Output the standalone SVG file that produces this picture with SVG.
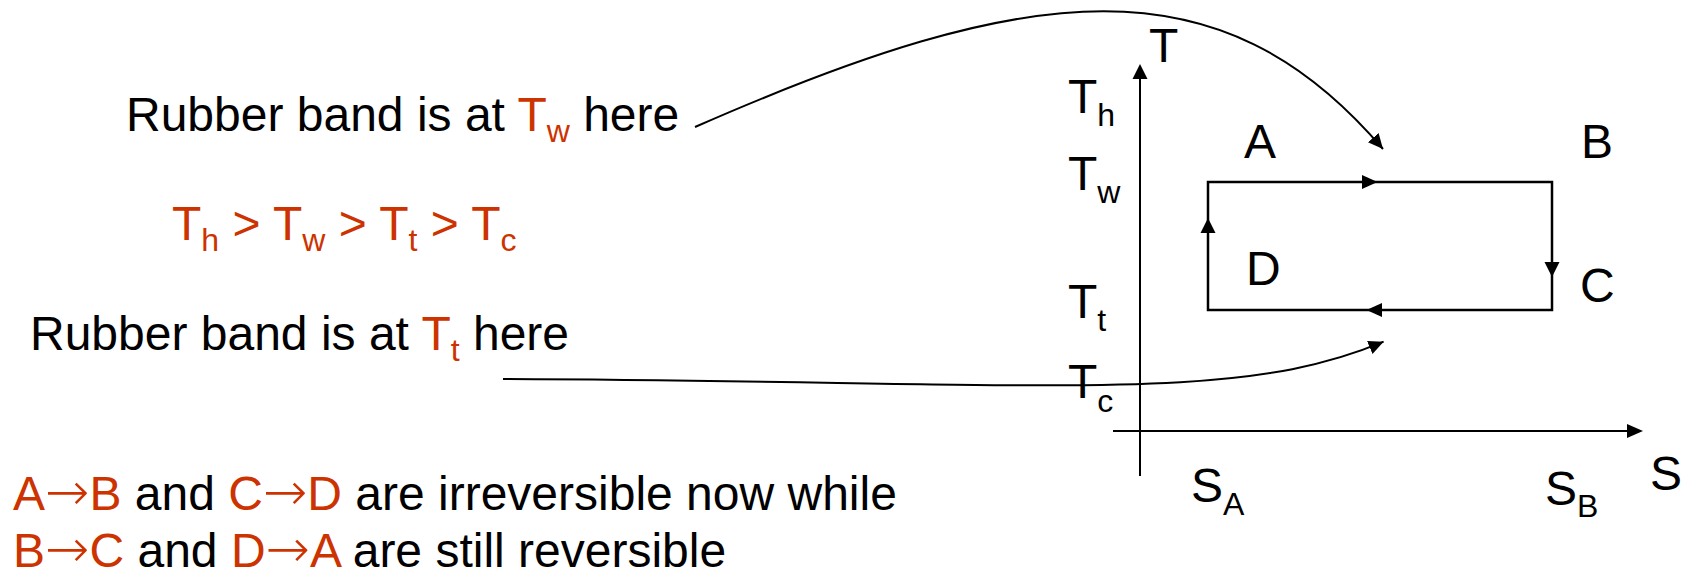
<svg xmlns="http://www.w3.org/2000/svg" width="1684" height="574" viewBox="0 0 1684 574">
<style>
text{font-family:"Liberation Sans",Arial,sans-serif;font-size:48px;fill:#000}
.r{fill:#CC3300}
.sub{font-size:32px}
.ar{font-family:"DejaVu Sans",sans-serif;font-size:53px;font-weight:200}
.ln{fill:none;stroke:#000;stroke-width:2}
.edge{fill:none;stroke:#000;stroke-width:2.5}
.ah{fill:#000;stroke:none}
</style>
<defs>
<marker id="arr" markerUnits="userSpaceOnUse" markerWidth="16" markerHeight="15" refX="15" refY="7" orient="auto">
<path d="M0,0 L15,7 L0,14 z" fill="#000"/>
</marker>
</defs>
<rect width="1684" height="574" fill="#fff"/>
<g id="connectors">
<path class="ln" d="M695,127 C1030,-20 1220,-42 1383,149" marker-end="url(#arr)"/>
<path class="ln" d="M503,379 C1053,381.5 1233.6,405 1383.6,341.7" marker-end="url(#arr)"/>
<line class="ln" x1="1140" y1="476" x2="1140" y2="76"/>
<polygon class="ah" points="1140,64 1132.5,79 1147.5,79"/>
<line class="ln" x1="1113" y1="431" x2="1630" y2="431"/>
<polygon class="ah" points="1643,431 1627,424 1627,438"/>
<rect class="edge" x="1208" y="182" width="344" height="128"/>
<polygon class="ah" points="1377.5,182 1362,175 1362,189"/>
<polygon class="ah" points="1208,218 1200.5,233 1215.5,233"/>
<polygon class="ah" points="1552,277 1544.5,262 1559.5,262"/>
<polygon class="ah" points="1366.5,310 1382,303 1382,317"/>
</g>
<g id="label-tw-here"><text x="126" y="131">Rubber band is at <tspan class="r">T</tspan><tspan class="r sub" dy="11">w</tspan><tspan dy="-11"> here</tspan></text></g>
<g id="label-order"><text x="172" y="240" class="r">T<tspan class="sub" dy="11">h</tspan><tspan dy="-11"> &gt; T</tspan><tspan class="sub" dy="11">w</tspan><tspan dy="-11"> &gt; T</tspan><tspan class="sub" dy="11">t</tspan><tspan dy="-11"> &gt; T</tspan><tspan class="sub" dy="11">c</tspan></text></g>
<g id="label-tt-here"><text x="30" y="350">Rubber band is at <tspan class="r">T</tspan><tspan class="r sub" dy="11">t</tspan><tspan dy="-11"> here</tspan></text></g>
<g id="label-irrev"><text x="13" y="510"><tspan class="r">A</tspan><tspan class="r ar">→</tspan><tspan class="r">B</tspan> and <tspan class="r">C</tspan><tspan class="r ar">→</tspan><tspan class="r">D</tspan> are irreversible now while</text></g>
<g id="label-rev"><text x="13" y="567"><tspan class="r">B</tspan><tspan class="r ar">→</tspan><tspan class="r">C</tspan> and <tspan class="r">D</tspan><tspan class="r ar">→</tspan><tspan class="r">A</tspan> are still reversible</text></g>
<g id="axis-T"><text x="1149" y="62">T</text></g>
<g id="axis-S"><text x="1650" y="490">S</text></g>
<g id="tick-Th"><text x="1068" y="113">T<tspan class="sub" dy="13">h</tspan></text></g>
<g id="tick-Tw"><text x="1068" y="190">T<tspan class="sub" dy="13">w</tspan></text></g>
<g id="tick-Tt"><text x="1068" y="318">T<tspan class="sub" dy="13">t</tspan></text></g>
<g id="tick-Tc"><text x="1068" y="398">T<tspan class="sub" dy="14">c</tspan></text></g>
<g id="tick-SA"><text x="1191" y="502">S<tspan class="sub" dy="13">A</tspan></text></g>
<g id="tick-SB"><text x="1545" y="505">S<tspan class="sub" dy="12">B</tspan></text></g>
<g id="node-A"><text x="1244" y="158">A</text></g>
<g id="node-B"><text x="1581" y="158">B</text></g>
<g id="node-C"><text x="1580" y="302">C</text></g>
<g id="node-D"><text x="1246" y="285">D</text></g>
</svg>
